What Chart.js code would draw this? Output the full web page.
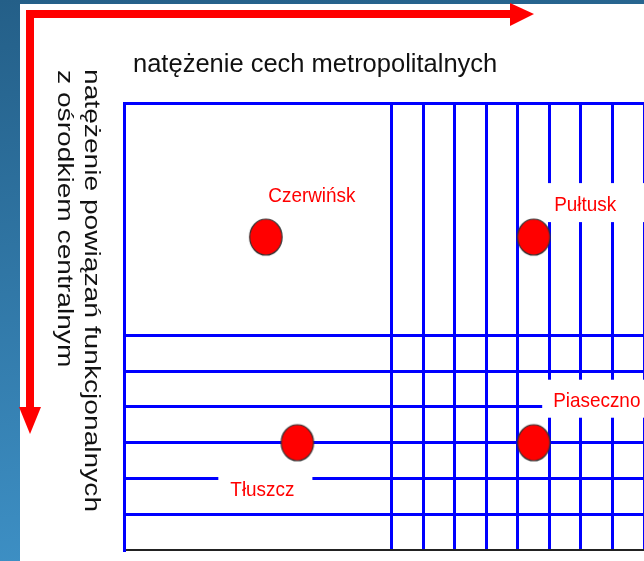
<!DOCTYPE html>
<html><head><meta charset="utf-8">
<script src="https://cdn.jsdelivr.net/npm/chart.js@4/dist/chart.umd.min.js"></script>
<style>html,body{margin:0;padding:0;background:#fff;overflow:hidden}canvas{display:block}</style>
</head><body>
<canvas id="c" width="644" height="561"></canvas>
<script>
// ---- data ----
const towns = ['Czerwińsk', 'Pułtusk', 'Piaseczno', 'Tłuszcz'];
const metroIntensity = [4.5, 13, 13, 5.5];      // x: natężenie cech metropolitalnych
const linkIntensity = [8.75, 8.75, 3, 3];       // y: natężenie powiązań (0 = bottom)
const gridX = [0, 8.5, 9.5, 10.5, 11.5, 12.5, 13.5, 14.5, 15.5, 16.5];
const gridY = [0, 1, 2, 3, 4, 5, 6, 12.5];
const xTitle = 'natężenie cech metropolitalnych';
const yTitleLines = ['natężenie powiązań funkcjonalnych', 'z ośrodkiem centralnym'];

// ---- label layout (pixels relative to point) ----
const labelLayout = [
  {dx: 2.5, dy: -35, box: [-12, 18, -27, 11]},
  {dx: 20.5, dy: -26, box: [-13, 40, -28, 11]},
  {dx: 19.5, dy: -36, box: [-11, 40, -27, 11]},
  {dx: -67, dy: 53, box: [-12, 18, -27, 11]}
];

const FONT = "Arial, 'Liberation Sans', sans-serif";
const BLUE = '#0000ff';
const RED = '#ff0000';

// ellipse marker
const dot = document.createElement('canvas');
dot.width = 36; dot.height = 40;
(function(){
  const g = dot.getContext('2d');
  g.beginPath();
  g.ellipse(18, 20, 16.2, 18, 0, 0, Math.PI * 2);
  g.fillStyle = RED; g.fill();
  g.lineWidth = 1.2; g.strokeStyle = '#333'; g.stroke();
})();

const decor = {
  id: 'decor',
  beforeDraw(chart) {
    const c = chart.ctx, W = chart.width, H = chart.height;
    c.save();
    const g = c.createLinearGradient(0, 0, 60, H);
    g.addColorStop(0, '#245f88');
    g.addColorStop(1, '#3d8fc4');
    c.fillStyle = g;
    c.fillRect(0, 0, W, H);
    c.fillStyle = '#ffffff';
    c.fillRect(20, 4, W - 20, H - 4);
    c.restore();
  },
  beforeDatasetsDraw(chart) {
    const c = chart.ctx;
    const meta = chart.getDatasetMeta(0);
    c.save();
    c.font = '21px ' + FONT;
    c.textBaseline = 'alphabetic';
    meta.data.forEach((pt, i) => {
      const L = labelLayout[i];
      const tw = c.measureText(towns[i]).width * 0.9;
      const tx = pt.x + L.dx, ty = pt.y + L.dy;
      c.fillStyle = '#ffffff';
      c.fillRect(tx + L.box[0], ty + L.box[2], tw - L.box[0] + L.box[1], L.box[3] - L.box[2]);
      c.save();
      c.translate(tx, ty);
      c.scale(0.9, 1);
      c.fillStyle = RED;
      c.fillText(towns[i], 0, 0);
      c.restore();
    });
    c.restore();
  },
  afterDraw(chart) {
    const c = chart.ctx;
    c.save();
    // red arrows
    c.fillStyle = RED;
    c.fillRect(26, 10, 486, 8);
    c.beginPath(); c.moveTo(510, 3); c.lineTo(534, 14); c.lineTo(510, 26); c.closePath(); c.fill();
    c.fillRect(26, 10, 8, 398);
    c.beginPath(); c.moveTo(19, 407); c.lineTo(41, 407); c.lineTo(30, 434); c.closePath(); c.fill();
    // titles
    c.fillStyle = '#111';
    c.textBaseline = 'alphabetic';
    c.textAlign = 'left';
    c.font = '25.5px ' + FONT;
    c.fillText(xTitle, 133, 71.5);
    c.font = '22px ' + FONT;
    const starts = [[85, 69], [58, 70]];
    yTitleLines.forEach((t, i) => {
      c.save();
      c.translate(starts[i][0], starts[i][1]);
      c.rotate(Math.PI / 2);
      c.scale(1.28, 1);
      c.fillText(t, 0, 0);
      c.restore();
    });
    c.restore();
  }
};

new Chart(document.getElementById('c'), {
  type: 'scatter',
  data: {
    datasets: [{
      label: 'gminy',
      data: towns.map((t, i) => ({x: metroIntensity[i], y: linkIntensity[i]})),
      pointStyle: dot,
      pointRadius: 18,
      pointHoverRadius: 18,
      clip: false
    }]
  },
  options: {
    responsive: false,
    animation: false,
    devicePixelRatio: 1,
    events: [],
    layout: {autoPadding: false, padding: {left: 124, top: 103, right: 0, bottom: 11}},
    plugins: {legend: {display: false}, tooltip: {enabled: false}, title: {display: false}},
    scales: {
      x: {
        type: 'linear', min: 0, max: 16.5,
        afterBuildTicks: s => { s.ticks = gridX.map(v => ({value: v})); },
        ticks: {display: false},
        grid: {color: BLUE, lineWidth: 3, drawTicks: false},
        border: {display: true, color: '#222', width: 2}
      },
      y: {
        type: 'linear', min: 0, max: 12.5,
        afterBuildTicks: s => { s.ticks = gridY.map(v => ({value: v})); },
        ticks: {display: false},
        grid: {color: c => (c.tick && c.tick.value === 0) ? 'rgba(0,0,0,0)' : BLUE, lineWidth: 3, drawTicks: false},
        border: {display: true, color: BLUE, width: 3}
      }
    }
  },
  plugins: [decor]
});
</script>
</body></html>
